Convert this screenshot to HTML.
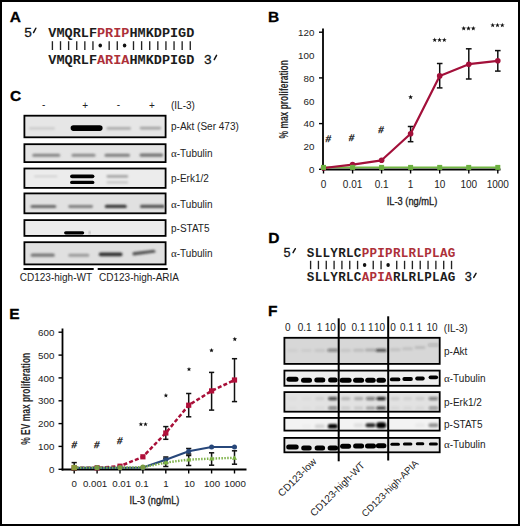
<!DOCTYPE html>
<html><head><meta charset="utf-8"><style>
html,body{margin:0;padding:0;background:#fff;}
svg{display:block;}
</style></head><body>
<svg width="520" height="526" viewBox="0 0 520 526">
<defs><filter id="bl" x="-20%" y="-80%" width="140%" height="260%"><feGaussianBlur stdDeviation="0.85"/></filter><filter id="bl2" x="-20%" y="-80%" width="140%" height="260%"><feGaussianBlur stdDeviation="0.45"/></filter></defs>
<rect x="1" y="1" width="518" height="524" fill="#fff" stroke="#000" stroke-width="2"/>
<text x="9.8" y="22.4" font-family='"Liberation Sans", sans-serif' font-size="15.5" font-weight="bold" fill="#000" stroke="#000" stroke-width="0.3">A</text>
<text x="9.9" y="100.9" font-family='"Liberation Sans", sans-serif' font-size="15.5" font-weight="bold" fill="#000" stroke="#000" stroke-width="0.3">C</text>
<text x="268.3" y="242.7" font-family='"Liberation Sans", sans-serif' font-size="15.5" font-weight="bold" fill="#000" stroke="#000" stroke-width="0.3">D</text>
<text x="9.2" y="318.6" font-family='"Liberation Sans", sans-serif' font-size="15.5" font-weight="bold" fill="#000" stroke="#000" stroke-width="0.3">E</text>
<text x="268.1" y="316.1" font-family='"Liberation Sans", sans-serif' font-size="15.5" font-weight="bold" fill="#000" stroke="#000" stroke-width="0.3">F</text>
<text x="267.9" y="22.4" font-family='"Liberation Sans", sans-serif' font-size="15.5" font-weight="bold" fill="#000" stroke="#000" stroke-width="0.3">B</text>
<g font-family='"Liberation Mono", monospace' font-size="13.5" font-weight="bold"><text x="52.40" y="36.6" fill="#1c1c1c" text-anchor="middle">V</text><text x="60.51" y="36.6" fill="#1c1c1c" text-anchor="middle">M</text><text x="68.62" y="36.6" fill="#1c1c1c" text-anchor="middle">Q</text><text x="76.73" y="36.6" fill="#1c1c1c" text-anchor="middle">R</text><text x="84.84" y="36.6" fill="#1c1c1c" text-anchor="middle">L</text><text x="92.95" y="36.6" fill="#1c1c1c" text-anchor="middle">F</text><text x="101.06" y="36.6" fill="#ad3039" text-anchor="middle">P</text><text x="109.17" y="36.6" fill="#ad3039" text-anchor="middle">R</text><text x="117.28" y="36.6" fill="#ad3039" text-anchor="middle">I</text><text x="125.39" y="36.6" fill="#ad3039" text-anchor="middle">P</text><text x="133.50" y="36.6" fill="#1c1c1c" text-anchor="middle">H</text><text x="141.61" y="36.6" fill="#1c1c1c" text-anchor="middle">M</text><text x="149.72" y="36.6" fill="#1c1c1c" text-anchor="middle">K</text><text x="157.83" y="36.6" fill="#1c1c1c" text-anchor="middle">D</text><text x="165.94" y="36.6" fill="#1c1c1c" text-anchor="middle">P</text><text x="174.05" y="36.6" fill="#1c1c1c" text-anchor="middle">I</text><text x="182.16" y="36.6" fill="#1c1c1c" text-anchor="middle">G</text><text x="190.27" y="36.6" fill="#1c1c1c" text-anchor="middle">D</text></g>
<g font-family='"Liberation Mono", monospace' font-size="13.5" font-weight="bold"><text x="52.40" y="63.7" fill="#1c1c1c" text-anchor="middle">V</text><text x="60.51" y="63.7" fill="#1c1c1c" text-anchor="middle">M</text><text x="68.62" y="63.7" fill="#1c1c1c" text-anchor="middle">Q</text><text x="76.73" y="63.7" fill="#1c1c1c" text-anchor="middle">R</text><text x="84.84" y="63.7" fill="#1c1c1c" text-anchor="middle">L</text><text x="92.95" y="63.7" fill="#1c1c1c" text-anchor="middle">F</text><text x="101.06" y="63.7" fill="#ad3039" text-anchor="middle">A</text><text x="109.17" y="63.7" fill="#ad3039" text-anchor="middle">R</text><text x="117.28" y="63.7" fill="#ad3039" text-anchor="middle">I</text><text x="125.39" y="63.7" fill="#ad3039" text-anchor="middle">A</text><text x="133.50" y="63.7" fill="#1c1c1c" text-anchor="middle">H</text><text x="141.61" y="63.7" fill="#1c1c1c" text-anchor="middle">M</text><text x="149.72" y="63.7" fill="#1c1c1c" text-anchor="middle">K</text><text x="157.83" y="63.7" fill="#1c1c1c" text-anchor="middle">D</text><text x="165.94" y="63.7" fill="#1c1c1c" text-anchor="middle">P</text><text x="174.05" y="63.7" fill="#1c1c1c" text-anchor="middle">I</text><text x="182.16" y="63.7" fill="#1c1c1c" text-anchor="middle">G</text><text x="190.27" y="63.7" fill="#1c1c1c" text-anchor="middle">D</text></g>
<g stroke="#222" stroke-width="1.35"><line x1="52.40" y1="41.2" x2="52.40" y2="50.0"/><line x1="60.51" y1="41.2" x2="60.51" y2="50.0"/><line x1="68.62" y1="41.2" x2="68.62" y2="50.0"/><line x1="76.73" y1="41.2" x2="76.73" y2="50.0"/><line x1="84.84" y1="41.2" x2="84.84" y2="50.0"/><line x1="92.95" y1="41.2" x2="92.95" y2="50.0"/><ellipse cx="100.26" cy="45.60" rx="1.75" ry="2.0" fill="#111" stroke="none"/><line x1="109.17" y1="41.2" x2="109.17" y2="50.0"/><line x1="117.28" y1="41.2" x2="117.28" y2="50.0"/><ellipse cx="124.59" cy="45.60" rx="1.75" ry="2.0" fill="#111" stroke="none"/><line x1="133.50" y1="41.2" x2="133.50" y2="50.0"/><line x1="141.61" y1="41.2" x2="141.61" y2="50.0"/><line x1="149.72" y1="41.2" x2="149.72" y2="50.0"/><line x1="157.83" y1="41.2" x2="157.83" y2="50.0"/><line x1="165.94" y1="41.2" x2="165.94" y2="50.0"/><line x1="174.05" y1="41.2" x2="174.05" y2="50.0"/><line x1="182.16" y1="41.2" x2="182.16" y2="50.0"/><line x1="190.27" y1="41.2" x2="190.27" y2="50.0"/></g>
<text x="28.00" y="36.6" text-anchor="middle" font-family='"Liberation Mono", monospace' font-size="13.5" font-weight="normal" stroke="#151515" stroke-width="0.3" fill="#151515">5</text>
<path d="M35.85,28.23 L33.55,32.55" stroke="#151515" stroke-width="1.5" stroke-linecap="round"/>
<text x="207.90" y="63.7" text-anchor="middle" font-family='"Liberation Mono", monospace' font-size="13.5" font-weight="normal" stroke="#151515" stroke-width="0.3" fill="#151515">3</text>
<path d="M216.55,55.33 L214.25,59.65" stroke="#151515" stroke-width="1.5" stroke-linecap="round"/>
<g font-family='"Liberation Mono", monospace' font-size="12.6" font-weight="bold"><text x="310.60" y="256.5" fill="#1c1c1c" text-anchor="middle">S</text><text x="318.43" y="256.5" fill="#1c1c1c" text-anchor="middle">L</text><text x="326.26" y="256.5" fill="#1c1c1c" text-anchor="middle">L</text><text x="334.09" y="256.5" fill="#1c1c1c" text-anchor="middle">Y</text><text x="341.92" y="256.5" fill="#1c1c1c" text-anchor="middle">R</text><text x="349.75" y="256.5" fill="#1c1c1c" text-anchor="middle">L</text><text x="357.58" y="256.5" fill="#1c1c1c" text-anchor="middle">C</text><text x="365.41" y="256.5" fill="#ad3039" text-anchor="middle">P</text><text x="373.24" y="256.5" fill="#ad3039" text-anchor="middle">P</text><text x="381.07" y="256.5" fill="#ad3039" text-anchor="middle">I</text><text x="388.90" y="256.5" fill="#ad3039" text-anchor="middle">P</text><text x="396.73" y="256.5" fill="#ad3039" text-anchor="middle">R</text><text x="404.56" y="256.5" fill="#ad3039" text-anchor="middle">L</text><text x="412.39" y="256.5" fill="#ad3039" text-anchor="middle">R</text><text x="420.22" y="256.5" fill="#ad3039" text-anchor="middle">L</text><text x="428.05" y="256.5" fill="#ad3039" text-anchor="middle">P</text><text x="435.88" y="256.5" fill="#ad3039" text-anchor="middle">L</text><text x="443.71" y="256.5" fill="#ad3039" text-anchor="middle">A</text><text x="451.54" y="256.5" fill="#ad3039" text-anchor="middle">G</text></g>
<g font-family='"Liberation Mono", monospace' font-size="12.6" font-weight="bold"><text x="310.60" y="281.2" fill="#1c1c1c" text-anchor="middle">S</text><text x="318.43" y="281.2" fill="#1c1c1c" text-anchor="middle">L</text><text x="326.26" y="281.2" fill="#1c1c1c" text-anchor="middle">L</text><text x="334.09" y="281.2" fill="#1c1c1c" text-anchor="middle">Y</text><text x="341.92" y="281.2" fill="#1c1c1c" text-anchor="middle">R</text><text x="349.75" y="281.2" fill="#1c1c1c" text-anchor="middle">L</text><text x="357.58" y="281.2" fill="#1c1c1c" text-anchor="middle">C</text><text x="365.41" y="281.2" fill="#ad3039" text-anchor="middle">A</text><text x="373.24" y="281.2" fill="#ad3039" text-anchor="middle">P</text><text x="381.07" y="281.2" fill="#ad3039" text-anchor="middle">I</text><text x="388.90" y="281.2" fill="#ad3039" text-anchor="middle">A</text><text x="396.73" y="281.2" fill="#1c1c1c" text-anchor="middle">R</text><text x="404.56" y="281.2" fill="#1c1c1c" text-anchor="middle">L</text><text x="412.39" y="281.2" fill="#1c1c1c" text-anchor="middle">R</text><text x="420.22" y="281.2" fill="#1c1c1c" text-anchor="middle">L</text><text x="428.05" y="281.2" fill="#1c1c1c" text-anchor="middle">P</text><text x="435.88" y="281.2" fill="#1c1c1c" text-anchor="middle">L</text><text x="443.71" y="281.2" fill="#1c1c1c" text-anchor="middle">A</text><text x="451.54" y="281.2" fill="#1c1c1c" text-anchor="middle">G</text></g>
<g stroke="#222" stroke-width="1.35"><line x1="310.60" y1="260.8" x2="310.60" y2="269.2"/><line x1="318.43" y1="260.8" x2="318.43" y2="269.2"/><line x1="326.26" y1="260.8" x2="326.26" y2="269.2"/><line x1="334.09" y1="260.8" x2="334.09" y2="269.2"/><line x1="341.92" y1="260.8" x2="341.92" y2="269.2"/><line x1="349.75" y1="260.8" x2="349.75" y2="269.2"/><line x1="357.58" y1="260.8" x2="357.58" y2="269.2"/><ellipse cx="364.61" cy="265.00" rx="1.75" ry="2.0" fill="#111" stroke="none"/><line x1="373.24" y1="260.8" x2="373.24" y2="269.2"/><line x1="381.07" y1="260.8" x2="381.07" y2="269.2"/><ellipse cx="388.10" cy="265.00" rx="1.75" ry="2.0" fill="#111" stroke="none"/><line x1="396.73" y1="260.8" x2="396.73" y2="269.2"/><line x1="404.56" y1="260.8" x2="404.56" y2="269.2"/><line x1="412.39" y1="260.8" x2="412.39" y2="269.2"/><line x1="420.22" y1="260.8" x2="420.22" y2="269.2"/><line x1="428.05" y1="260.8" x2="428.05" y2="269.2"/><line x1="435.88" y1="260.8" x2="435.88" y2="269.2"/><line x1="443.71" y1="260.8" x2="443.71" y2="269.2"/><line x1="451.54" y1="260.8" x2="451.54" y2="269.2"/></g>
<text x="287.00" y="256.5" text-anchor="middle" font-family='"Liberation Mono", monospace' font-size="12.6" font-weight="normal" stroke="#151515" stroke-width="0.3" fill="#151515">5</text>
<path d="M295.35,248.69 L293.05,252.72" stroke="#151515" stroke-width="1.5" stroke-linecap="round"/>
<text x="468.20" y="281.2" text-anchor="middle" font-family='"Liberation Mono", monospace' font-size="12.6" font-weight="normal" stroke="#151515" stroke-width="0.3" fill="#151515">3</text>
<path d="M476.05,273.39 L473.75,277.42" stroke="#151515" stroke-width="1.5" stroke-linecap="round"/>
<g font-family='"Liberation Sans", sans-serif' font-size="10" fill="#222"><line x1="319" y1="169.3" x2="323.0" y2="169.3" stroke="#000" stroke-width="1.4"/><text x="314.4" y="173.0" text-anchor="end" font-size="9.8">0</text><text x="314.4" y="150.2" text-anchor="end" font-size="9.8">20</text><line x1="319" y1="123.6" x2="323.0" y2="123.6" stroke="#000" stroke-width="1.4"/><text x="314.4" y="127.3" text-anchor="end" font-size="9.8">40</text><text x="314.4" y="104.5" text-anchor="end" font-size="9.8">60</text><line x1="319" y1="77.9" x2="323.0" y2="77.9" stroke="#000" stroke-width="1.4"/><text x="314.4" y="81.6" text-anchor="end" font-size="9.8">80</text><text x="314.4" y="58.8" text-anchor="end" font-size="9.8">100</text><line x1="319" y1="32.2" x2="323.0" y2="32.2" stroke="#000" stroke-width="1.4"/><text x="314.4" y="35.9" text-anchor="end" font-size="9.8">120</text><line x1="323.0" y1="28.5" x2="323.0" y2="170.3" stroke="#000" stroke-width="1.8"/><line x1="322.1" y1="169.4" x2="500.5" y2="169.4" stroke="#000" stroke-width="2"/><line x1="323.5" y1="169.5" x2="323.5" y2="173.5" stroke="#000" stroke-width="1.4"/><text x="323.5" y="187.5" text-anchor="middle">0</text><line x1="352.6" y1="169.5" x2="352.6" y2="173.5" stroke="#000" stroke-width="1.4"/><text x="352.6" y="187.5" text-anchor="middle">0.01</text><line x1="381.6" y1="169.5" x2="381.6" y2="173.5" stroke="#000" stroke-width="1.4"/><text x="381.6" y="187.5" text-anchor="middle">0.1</text><line x1="410.6" y1="169.5" x2="410.6" y2="173.5" stroke="#000" stroke-width="1.4"/><text x="410.6" y="187.5" text-anchor="middle">1</text><line x1="439.7" y1="169.5" x2="439.7" y2="173.5" stroke="#000" stroke-width="1.4"/><text x="439.7" y="187.5" text-anchor="middle">10</text><line x1="468.8" y1="169.5" x2="468.8" y2="173.5" stroke="#000" stroke-width="1.4"/><text x="468.8" y="187.5" text-anchor="middle">100</text><line x1="497.8" y1="169.5" x2="497.8" y2="173.5" stroke="#000" stroke-width="1.4"/><text x="497.8" y="187.5" text-anchor="middle">1000</text></g>
<text transform="translate(288.4,99.3) rotate(-90)" text-anchor="middle" font-family='"Liberation Sans", sans-serif' font-size="12.3" font-weight="bold" fill="#2a2a2a" textLength="78.3" lengthAdjust="spacingAndGlyphs">% max proliferation</text>
<text x="412.0" y="205.0" text-anchor="middle" font-family='"Liberation Sans", sans-serif' font-size="11.2" fill="#222" stroke="#222" stroke-width="0.35" textLength="50.5" lengthAdjust="spacingAndGlyphs">IL-3 (ng/mL)</text>
<line x1="323.5" y1="167.4" x2="497.8" y2="167.4" stroke="#72b843" stroke-width="1.9"/>
<g stroke="#111" stroke-width="1.5"><line x1="410.6" y1="126.5" x2="410.6" y2="141.7"/><line x1="407.8" y1="126.5" x2="413.4" y2="126.5"/><line x1="407.8" y1="141.7" x2="413.4" y2="141.7"/></g>
<g stroke="#111" stroke-width="1.5"><line x1="439.7" y1="63.5" x2="439.7" y2="87.9"/><line x1="436.9" y1="63.5" x2="442.5" y2="63.5"/><line x1="436.9" y1="87.9" x2="442.5" y2="87.9"/></g>
<g stroke="#111" stroke-width="1.5"><line x1="468.8" y1="48.8" x2="468.8" y2="79.0"/><line x1="465.9" y1="48.8" x2="471.6" y2="48.8"/><line x1="465.9" y1="79.0" x2="471.6" y2="79.0"/></g>
<g stroke="#111" stroke-width="1.5"><line x1="497.8" y1="50.6" x2="497.8" y2="71.1"/><line x1="495.0" y1="50.6" x2="500.6" y2="50.6"/><line x1="495.0" y1="71.1" x2="500.6" y2="71.1"/></g>
<polyline points="323.5,168.0 352.6,164.6 381.6,160.3 410.6,133.7 439.7,75.9 468.8,64.2 497.8,60.8" fill="none" stroke="#a3103a" stroke-width="2.2" stroke-linejoin="round"/>
<circle cx="323.5" cy="168.0" r="2.8" fill="#a3103a"/>
<circle cx="352.6" cy="164.6" r="2.8" fill="#a3103a"/>
<circle cx="381.6" cy="160.3" r="2.8" fill="#a3103a"/>
<circle cx="410.6" cy="133.7" r="2.8" fill="#a3103a"/>
<circle cx="439.7" cy="75.9" r="2.8" fill="#a3103a"/>
<circle cx="468.8" cy="64.2" r="2.8" fill="#a3103a"/>
<circle cx="497.8" cy="60.8" r="2.8" fill="#a3103a"/>
<rect x="321.0" y="164.9" width="5" height="5" fill="#6cb040"/>
<rect x="350.1" y="164.9" width="5" height="5" fill="#6cb040"/>
<rect x="379.1" y="164.9" width="5" height="5" fill="#6cb040"/>
<rect x="408.1" y="164.9" width="5" height="5" fill="#6cb040"/>
<rect x="437.2" y="164.9" width="5" height="5" fill="#6cb040"/>
<rect x="466.2" y="164.9" width="5" height="5" fill="#6cb040"/>
<rect x="495.3" y="164.9" width="5" height="5" fill="#6cb040"/>
<polygon points="410.60,94.70 411.22,96.35 412.98,96.43 411.60,97.52 412.07,99.22 410.60,98.25 409.13,99.22 409.60,97.52 408.22,96.43 409.98,96.35" fill="#111"/>
<polygon points="434.70,37.50 435.32,39.15 437.08,39.23 435.70,40.32 436.17,42.02 434.70,41.05 433.23,42.02 433.70,40.32 432.32,39.23 434.08,39.15" fill="#111"/><polygon points="439.50,37.50 440.12,39.15 441.88,39.23 440.50,40.32 440.97,42.02 439.50,41.05 438.03,42.02 438.50,40.32 437.12,39.23 438.88,39.15" fill="#111"/><polygon points="444.30,37.50 444.92,39.15 446.68,39.23 445.30,40.32 445.77,42.02 444.30,41.05 442.83,42.02 443.30,40.32 441.92,39.23 443.68,39.15" fill="#111"/>
<polygon points="463.70,25.90 464.32,27.55 466.08,27.63 464.70,28.72 465.17,30.42 463.70,29.45 462.23,30.42 462.70,28.72 461.32,27.63 463.08,27.55" fill="#111"/><polygon points="468.50,25.90 469.12,27.55 470.88,27.63 469.50,28.72 469.97,30.42 468.50,29.45 467.03,30.42 467.50,28.72 466.12,27.63 467.88,27.55" fill="#111"/><polygon points="473.30,25.90 473.92,27.55 475.68,27.63 474.30,28.72 474.77,30.42 473.30,29.45 471.83,30.42 472.30,28.72 470.92,27.63 472.68,27.55" fill="#111"/>
<polygon points="492.70,22.80 493.32,24.45 495.08,24.53 493.70,25.62 494.17,27.32 492.70,26.35 491.23,27.32 491.70,25.62 490.32,24.53 492.08,24.45" fill="#111"/><polygon points="497.50,22.80 498.12,24.45 499.88,24.53 498.50,25.62 498.97,27.32 497.50,26.35 496.03,27.32 496.50,25.62 495.12,24.53 496.88,24.45" fill="#111"/><polygon points="502.30,22.80 502.92,24.45 504.68,24.53 503.30,25.62 503.77,27.32 502.30,26.35 500.83,27.32 501.30,25.62 499.92,24.53 501.68,24.45" fill="#111"/>
<text x="328.4" y="141.8" text-anchor="middle" font-family='"Liberation Sans", sans-serif' font-size="9.5" fill="#222" stroke="#222" stroke-width="0.35" transform="skewX(-8) translate(19.45,0)">#</text>
<text x="351.6" y="140.70000000000002" text-anchor="middle" font-family='"Liberation Sans", sans-serif' font-size="9.5" fill="#222" stroke="#222" stroke-width="0.35" transform="skewX(-8) translate(19.29,0)">#</text>
<text x="381.2" y="133.4" text-anchor="middle" font-family='"Liberation Sans", sans-serif' font-size="9.5" fill="#222" stroke="#222" stroke-width="0.35" transform="skewX(-8) translate(18.27,0)">#</text>
<g font-family='"Liberation Sans", sans-serif' font-size="10" fill="#222"><line x1="58.5" y1="469.3" x2="62.5" y2="469.3" stroke="#000" stroke-width="1.4"/><text x="54.4" y="473.0" text-anchor="end" font-size="9.8">0</text><line x1="58.5" y1="446.4" x2="62.5" y2="446.4" stroke="#000" stroke-width="1.4"/><text x="54.4" y="450.1" text-anchor="end" font-size="9.8">100</text><line x1="58.5" y1="423.6" x2="62.5" y2="423.6" stroke="#000" stroke-width="1.4"/><text x="54.4" y="427.3" text-anchor="end" font-size="9.8">200</text><line x1="58.5" y1="400.8" x2="62.5" y2="400.8" stroke="#000" stroke-width="1.4"/><text x="54.4" y="404.4" text-anchor="end" font-size="9.8">300</text><line x1="58.5" y1="377.9" x2="62.5" y2="377.9" stroke="#000" stroke-width="1.4"/><text x="54.4" y="381.6" text-anchor="end" font-size="9.8">400</text><line x1="58.5" y1="355.1" x2="62.5" y2="355.1" stroke="#000" stroke-width="1.4"/><text x="54.4" y="358.8" text-anchor="end" font-size="9.8">500</text><line x1="58.5" y1="332.2" x2="62.5" y2="332.2" stroke="#000" stroke-width="1.4"/><text x="54.4" y="335.9" text-anchor="end" font-size="9.8">600</text><line x1="62.5" y1="328.5" x2="62.5" y2="470.5" stroke="#000" stroke-width="1.8"/><line x1="61.6" y1="469.5" x2="246.5" y2="469.5" stroke="#000" stroke-width="2"/><line x1="74.2" y1="469.7" x2="74.2" y2="473.5" stroke="#000" stroke-width="1.4"/><text x="74.3" y="487.4" text-anchor="middle" font-size="9.7">0</text><line x1="97.1" y1="469.7" x2="97.1" y2="473.5" stroke="#000" stroke-width="1.4"/><text x="95.1" y="487.4" text-anchor="middle" font-size="9.7">0.001</text><line x1="120.0" y1="469.7" x2="120.0" y2="473.5" stroke="#000" stroke-width="1.4"/><text x="121.7" y="487.4" text-anchor="middle" font-size="9.7">0.01</text><line x1="142.9" y1="469.7" x2="142.9" y2="473.5" stroke="#000" stroke-width="1.4"/><text x="141.9" y="487.4" text-anchor="middle" font-size="9.7">0.1</text><line x1="165.8" y1="469.7" x2="165.8" y2="473.5" stroke="#000" stroke-width="1.4"/><text x="166.0" y="487.4" text-anchor="middle" font-size="9.7">1</text><line x1="188.7" y1="469.7" x2="188.7" y2="473.5" stroke="#000" stroke-width="1.4"/><text x="189.6" y="487.4" text-anchor="middle" font-size="9.7">10</text><line x1="211.6" y1="469.7" x2="211.6" y2="473.5" stroke="#000" stroke-width="1.4"/><text x="212.0" y="487.4" text-anchor="middle" font-size="9.7">100</text><line x1="234.5" y1="469.7" x2="234.5" y2="473.5" stroke="#000" stroke-width="1.4"/><text x="235.1" y="487.4" text-anchor="middle" font-size="9.7">1000</text></g>
<text transform="translate(30.0,398.8) rotate(-90)" text-anchor="middle" font-family='"Liberation Sans", sans-serif' font-size="12" font-weight="bold" fill="#2a2a2a" textLength="92" lengthAdjust="spacingAndGlyphs">% EV max proliferation</text>
<text x="154.4" y="504.0" text-anchor="middle" font-family='"Liberation Sans", sans-serif' font-size="11.2" fill="#222" stroke="#222" stroke-width="0.35" textLength="50.0" lengthAdjust="spacingAndGlyphs">IL-3 (ng/mL)</text>
<g stroke="#111" stroke-width="1.5"><line x1="74.2" y1="462.6" x2="74.2" y2="470"/><line x1="71.6" y1="462.6" x2="76.8" y2="462.6"/><line x1="71.6" y1="470" x2="76.8" y2="470"/></g>
<g stroke="#111" stroke-width="1.5"><line x1="165.8" y1="426.6" x2="165.8" y2="439.3"/><line x1="163.2" y1="426.6" x2="168.4" y2="426.6"/><line x1="163.2" y1="439.3" x2="168.4" y2="439.3"/></g>
<g stroke="#111" stroke-width="1.5"><line x1="188.7" y1="393.5" x2="188.7" y2="416.8"/><line x1="186.1" y1="393.5" x2="191.3" y2="393.5"/><line x1="186.1" y1="416.8" x2="191.3" y2="416.8"/></g>
<g stroke="#111" stroke-width="1.5"><line x1="211.6" y1="372.4" x2="211.6" y2="410.1"/><line x1="209.0" y1="372.4" x2="214.2" y2="372.4"/><line x1="209.0" y1="410.1" x2="214.2" y2="410.1"/></g>
<g stroke="#111" stroke-width="1.5"><line x1="234.5" y1="358.7" x2="234.5" y2="401.6"/><line x1="231.9" y1="358.7" x2="237.1" y2="358.7"/><line x1="231.9" y1="401.6" x2="237.1" y2="401.6"/></g>
<g stroke="#111" stroke-width="1.5"><line x1="165.8" y1="457" x2="165.8" y2="463"/><line x1="163.2" y1="457" x2="168.4" y2="457"/><line x1="163.2" y1="463" x2="168.4" y2="463"/></g>
<g stroke="#111" stroke-width="1.5"><line x1="188.7" y1="448.5" x2="188.7" y2="454"/><line x1="186.1" y1="448.5" x2="191.3" y2="448.5"/><line x1="186.1" y1="454" x2="191.3" y2="454"/></g>
<g stroke="#111" stroke-width="1.5"><line x1="211.6" y1="452.8" x2="211.6" y2="465.2"/><line x1="209.0" y1="452.8" x2="214.2" y2="452.8"/><line x1="209.0" y1="465.2" x2="214.2" y2="465.2"/></g>
<g stroke="#111" stroke-width="1.5"><line x1="234.5" y1="450.8" x2="234.5" y2="464.2"/><line x1="231.9" y1="450.8" x2="237.1" y2="450.8"/><line x1="231.9" y1="464.2" x2="237.1" y2="464.2"/></g>
<g stroke="#111" stroke-width="1.5"><line x1="188.7" y1="455.5" x2="188.7" y2="465.5"/><line x1="186.1" y1="455.5" x2="191.3" y2="455.5"/><line x1="186.1" y1="465.5" x2="191.3" y2="465.5"/></g>
<g stroke="#111" stroke-width="1.5"><line x1="165.8" y1="458.5" x2="165.8" y2="466.5"/><line x1="163.2" y1="458.5" x2="168.4" y2="458.5"/><line x1="163.2" y1="466.5" x2="168.4" y2="466.5"/></g>
<polyline points="74.2,467.8 97.1,467.8 120.0,466.2 142.9,456.8 165.8,433.0 188.7,405.2 211.6,390.9 234.5,380.0" fill="none" stroke="#a80f38" stroke-width="2.5" stroke-dasharray="4,2.2"/>
<rect x="71.6" y="465.2" width="5.2" height="5.2" fill="#b0103a"/>
<rect x="94.5" y="465.2" width="5.2" height="5.2" fill="#b0103a"/>
<rect x="117.4" y="463.6" width="5.2" height="5.2" fill="#b0103a"/>
<rect x="140.3" y="454.2" width="5.2" height="5.2" fill="#b0103a"/>
<rect x="163.2" y="430.4" width="5.2" height="5.2" fill="#b0103a"/>
<rect x="186.1" y="402.6" width="5.2" height="5.2" fill="#b0103a"/>
<rect x="209.0" y="388.3" width="5.2" height="5.2" fill="#b0103a"/>
<rect x="231.9" y="377.4" width="5.2" height="5.2" fill="#b0103a"/>
<polyline points="74.2,467.8 97.1,467.8 120.0,467.8 142.9,467.5 165.8,459.8 188.7,451.2 211.6,447.0 234.5,447.0" fill="none" stroke="#27477a" stroke-width="2.2"/>
<circle cx="74.2" cy="467.8" r="2.5" fill="#27477a"/>
<circle cx="97.1" cy="467.8" r="2.5" fill="#27477a"/>
<circle cx="120.0" cy="467.8" r="2.5" fill="#27477a"/>
<circle cx="142.9" cy="467.5" r="2.5" fill="#27477a"/>
<circle cx="165.8" cy="459.8" r="2.5" fill="#27477a"/>
<circle cx="188.7" cy="451.2" r="2.5" fill="#27477a"/>
<circle cx="211.6" cy="447.0" r="2.5" fill="#27477a"/>
<circle cx="234.5" cy="447.0" r="2.5" fill="#27477a"/>
<polyline points="74.2,467.6 97.1,467.6 120.0,467.6 142.9,467.2 165.8,462.6 188.7,459.6 211.6,458.6 234.5,457.8" fill="none" stroke="#7fb24a" stroke-width="2.4" stroke-dasharray="1.5,1.4"/>
<path d="M163.2,464.6 L168.4,464.6 L165.8,460.2Z" fill="#7cb342"/>
<path d="M186.1,461.6 L191.3,461.6 L188.7,457.2Z" fill="#7cb342"/>
<path d="M209.0,460.6 L214.2,460.6 L211.6,456.2Z" fill="#7cb342"/>
<path d="M231.9,459.8 L237.1,459.8 L234.5,455.4Z" fill="#7cb342"/>
<rect x="71.5" y="464.9" width="5.4" height="5.4" fill="#8a9a3a"/>
<circle cx="97.1" cy="467.6" r="2.6" fill="#7a9a40"/>
<circle cx="120.0" cy="467.6" r="2.6" fill="#7a9a40"/>
<circle cx="142.9" cy="467.2" r="2.6" fill="#7a9a40"/>
<polygon points="140.90,421.90 141.52,423.45 143.18,423.56 141.90,424.62 142.31,426.24 140.90,425.35 139.49,426.24 139.90,424.62 138.62,423.56 140.28,423.45" fill="#111"/><polygon points="145.50,421.90 146.12,423.45 147.78,423.56 146.50,424.62 146.91,426.24 145.50,425.35 144.09,426.24 144.50,424.62 143.22,423.56 144.88,423.45" fill="#111"/>
<polygon points="165.90,393.10 166.52,394.65 168.18,394.76 166.90,395.82 167.31,397.44 165.90,396.55 164.49,397.44 164.90,395.82 163.62,394.76 165.28,394.65" fill="#111"/>
<polygon points="189.00,366.90 189.62,368.45 191.28,368.56 190.00,369.62 190.41,371.24 189.00,370.35 187.59,371.24 188.00,369.62 186.72,368.56 188.38,368.45" fill="#111"/>
<polygon points="211.50,348.00 212.12,349.55 213.78,349.66 212.50,350.72 212.91,352.34 211.50,351.45 210.09,352.34 210.50,350.72 209.22,349.66 210.88,349.55" fill="#111"/>
<polygon points="234.80,336.80 235.42,338.35 237.08,338.46 235.80,339.52 236.21,341.14 234.80,340.25 233.39,341.14 233.80,339.52 232.52,338.46 234.18,338.35" fill="#111"/>
<text x="74.3" y="447.7" text-anchor="middle" font-family='"Liberation Sans", sans-serif' font-size="9.5" fill="#222" stroke="#222" stroke-width="0.35" transform="skewX(-8) translate(62.42,0)">#</text>
<text x="97" y="448.4" text-anchor="middle" font-family='"Liberation Sans", sans-serif' font-size="9.5" fill="#222" stroke="#222" stroke-width="0.35" transform="skewX(-8) translate(62.52,0)">#</text>
<text x="120" y="443.79999999999995" text-anchor="middle" font-family='"Liberation Sans", sans-serif' font-size="9.5" fill="#222" stroke="#222" stroke-width="0.35" transform="skewX(-8) translate(61.88,0)">#</text>
<rect x="24.4" y="115.7" width="141.2" height="21.6" fill="#e6e6e6" stroke="#000" stroke-width="1.8"/>
<rect x="24.4" y="144.20000000000002" width="141.2" height="17.9" fill="#e4e4e4" stroke="#000" stroke-width="1.8"/>
<rect x="24.4" y="168.5" width="141.2" height="19.4" fill="#ececec" stroke="#000" stroke-width="1.8"/>
<rect x="24.4" y="193.4" width="141.2" height="19.9" fill="#e1e1e1" stroke="#000" stroke-width="1.8"/>
<rect x="24.4" y="220.1" width="141.2" height="15.8" fill="#ececec" stroke="#000" stroke-width="1.8"/>
<rect x="24.4" y="242.20000000000002" width="141.2" height="22.2" fill="#e0e0e0" stroke="#000" stroke-width="1.8"/>
<rect x="70.6" y="125.3" width="32.0" height="5.6" rx="2.8" fill="#000" fill-opacity="1" filter="url(#bl2)"/><rect x="29.0" y="127.3" width="26.0" height="2.2" rx="1.1" fill="#c9c9c9" fill-opacity="1.0" filter="url(#bl)"/><rect x="106.5" y="127.1" width="24.5" height="2.6" rx="1.3" fill="#acacac" fill-opacity="1.0" filter="url(#bl)"/><rect x="139.7" y="126.7" width="21.6" height="2.8" rx="1.4" fill="#a3a3a3" fill-opacity="1.0" filter="url(#bl)"/><rect x="32.3" y="153.7" width="27.9" height="3.0" rx="1.5" fill="#858585" fill-opacity="1.0" filter="url(#bl)"/><rect x="71.5" y="153.8" width="24.0" height="3.0" rx="1.5" fill="#8a8a8a" fill-opacity="1.0" filter="url(#bl)"/><rect x="104.5" y="153.8" width="25.5" height="3.0" rx="1.5" fill="#7e7e7e" fill-opacity="1.0" filter="url(#bl)"/><rect x="139.5" y="153.5" width="23.7" height="3.2" rx="1.6" fill="#727272" fill-opacity="1.0" filter="url(#bl)"/><rect x="70.1" y="174.4" width="24.3" height="3.8" rx="1.9" fill="#000" fill-opacity="1" filter="url(#bl2)"/><rect x="70.1" y="180.7" width="24.3" height="3.3" rx="1.6" fill="#000" fill-opacity="1" filter="url(#bl2)"/><rect x="106.5" y="175.1" width="21.7" height="2.6" rx="1.3" fill="#a6a6a6" fill-opacity="1.0" filter="url(#bl)"/><rect x="106.5" y="181.2" width="21.7" height="2.3" rx="1.1" fill="#c4c4c4" fill-opacity="1.0" filter="url(#bl)"/><rect x="34.0" y="175.5" width="23.5" height="1.8" rx="0.9" fill="#d0d0d0" fill-opacity="1.0" filter="url(#bl)"/><rect x="30.5" y="204.9" width="25.8" height="3.0" rx="1.5" fill="#6a6a6a" fill-opacity="1.0" filter="url(#bl)"/><rect x="68.3" y="205.0" width="24.7" height="2.9" rx="1.4" fill="#808080" fill-opacity="1.0" filter="url(#bl)"/><rect x="104.8" y="204.7" width="22.0" height="3.4" rx="1.7" fill="#383838" fill-opacity="1.0" filter="url(#bl)"/><rect x="140.0" y="204.8" width="24.6" height="3.2" rx="1.6" fill="#555555" fill-opacity="1.0" filter="url(#bl)"/><rect x="64.1" y="231.2" width="20.1" height="3.2" rx="1.6" fill="#050505" fill-opacity="1" filter="url(#bl2)"/><rect x="88.9" y="231.8" width="1.7" height="1.7" rx="0.8" fill="#555" fill-opacity="1.0" filter="url(#bl)"/><rect x="30.7" y="253.6" width="24.1" height="3.2" rx="1.6" fill="#777777" fill-opacity="1.0" filter="url(#bl)"/><rect x="68.3" y="253.7" width="21.0" height="3.0" rx="1.5" fill="#9a9a9a" fill-opacity="1.0" filter="url(#bl)"/><rect x="98.8" y="252.6" width="23.7" height="3.6" rx="1.8" fill="#333333" fill-opacity="1.0" filter="url(#bl)"/><path d="M132.5,253.9 Q132,252.2 134,252.0 L154,249.8 Q156,250.4 155.5,252.4 L134,255.6 Q132.6,255.6 132.5,253.9Z" fill="#555" filter="url(#bl)"/>
<rect x="23.5" y="268" width="70.2" height="2" fill="#000"/><rect x="97.7" y="268" width="70" height="2" fill="#000"/>
<g font-family='"Liberation Sans", sans-serif' font-size="10" fill="#222"><text x="43.6" y="108.0" text-anchor="middle">-</text><text x="85.2" y="108.9" text-anchor="middle">+</text><text x="118.3" y="108.0" text-anchor="middle">-</text><text x="151.9" y="108.9" text-anchor="middle">+</text><text x="171" y="108.5">(IL-3)</text><text x="171" y="130.2">p-Akt (Ser 473)</text><text x="171" y="156.9"><tspan font-family="Liberation Serif" font-size="11">α</tspan>-Tubulin</text><text x="171" y="181.9">p-Erk1/2</text><text x="171" y="207.5"><tspan font-family="Liberation Serif" font-size="11">α</tspan>-Tubulin</text><text x="171" y="231.5">p-STAT5</text><text x="171" y="256.5"><tspan font-family="Liberation Serif" font-size="11">α</tspan>-Tubulin</text><text x="19.8" y="281.3">CD123-high-WT</text><text x="99" y="281.3">CD123-high-ARIA</text></g>
<rect x="284.4" y="337.79999999999995" width="155.3" height="26.1" fill="#d7d7d7" stroke="#000" stroke-width="1.8"/>
<rect x="284.4" y="370.59999999999997" width="155.3" height="15.2" fill="#eeeeee" stroke="#000" stroke-width="1.8"/>
<rect x="284.4" y="392.09999999999997" width="155.3" height="19.6" fill="#e2e2e2" stroke="#000" stroke-width="1.8"/>
<rect x="284.4" y="417.9" width="155.3" height="12.7" fill="#f3f3f3" stroke="#000" stroke-width="1.8"/>
<rect x="284.4" y="437.9" width="155.3" height="14.4" fill="#e9e9e9" stroke="#000" stroke-width="1.8"/>
<rect x="287.0" y="349.1" width="11.0" height="3.0" rx="1.5" fill="#1a1a1a" fill-opacity="0.04" filter="url(#bl)"/><rect x="301.0" y="349.1" width="11.0" height="3.0" rx="1.5" fill="#1a1a1a" fill-opacity="0.05" filter="url(#bl)"/><rect x="314.3" y="348.9" width="11.0" height="3.0" rx="1.5" fill="#1a1a1a" fill-opacity="0.08" filter="url(#bl)"/><rect x="327.3" y="348.8" width="11.0" height="3.0" rx="1.5" fill="#1a1a1a" fill-opacity="0.45" filter="url(#bl)"/><rect x="340.1" y="348.9" width="11.0" height="3.0" rx="1.5" fill="#1a1a1a" fill-opacity="0.08" filter="url(#bl)"/><rect x="353.1" y="348.7" width="11.0" height="3.0" rx="1.5" fill="#1a1a1a" fill-opacity="0.12" filter="url(#bl)"/><rect x="365.0" y="348.5" width="11.0" height="3.0" rx="1.5" fill="#1a1a1a" fill-opacity="0.2" filter="url(#bl)"/><rect x="375.7" y="348.7" width="11.0" height="3.0" rx="1.5" fill="#1a1a1a" fill-opacity="0.7" filter="url(#bl)"/><rect x="389.7" y="348.3" width="11.0" height="3.0" rx="1.5" fill="#1a1a1a" fill-opacity="0.1" filter="url(#bl)"/><rect x="402.1" y="347.3" width="11.0" height="3.0" rx="1.5" fill="#1a1a1a" fill-opacity="0.1" filter="url(#bl)"/><rect x="414.5" y="346.0" width="11.0" height="3.0" rx="1.5" fill="#1a1a1a" fill-opacity="0.12" filter="url(#bl)"/><rect x="427.9" y="343.5" width="11.0" height="3.0" rx="1.5" fill="#1a1a1a" fill-opacity="0.18" filter="url(#bl)"/><rect x="286.5" y="376.8" width="12.0" height="5.0" rx="2.5" fill="#050505" fill-opacity="1.0" filter="url(#bl2)"/><rect x="301.0" y="377.8" width="11.0" height="5.0" rx="2.5" fill="#050505" fill-opacity="1.0" filter="url(#bl2)"/><rect x="314.3" y="377.5" width="11.0" height="5.0" rx="2.5" fill="#050505" fill-opacity="1.0" filter="url(#bl2)"/><rect x="328.1" y="377.5" width="9.5" height="5.0" rx="2.5" fill="#050505" fill-opacity="1.0" filter="url(#bl2)"/><rect x="339.6" y="377.7" width="12.0" height="5.0" rx="2.5" fill="#050505" fill-opacity="1.0" filter="url(#bl2)"/><rect x="353.1" y="377.7" width="11.0" height="5.0" rx="2.5" fill="#050505" fill-opacity="1.0" filter="url(#bl2)"/><rect x="365.2" y="377.7" width="10.5" height="5.0" rx="2.5" fill="#050505" fill-opacity="1.0" filter="url(#bl2)"/><rect x="376.4" y="377.7" width="9.5" height="5.0" rx="2.5" fill="#050505" fill-opacity="1.0" filter="url(#bl2)"/><rect x="389.9" y="377.5" width="10.5" height="3.8" rx="1.9" fill="#050505" fill-opacity="1.0" filter="url(#bl2)"/><rect x="402.4" y="377.1" width="10.5" height="3.8" rx="1.9" fill="#050505" fill-opacity="1.0" filter="url(#bl2)"/><rect x="415.2" y="376.6" width="9.5" height="3.8" rx="1.9" fill="#050505" fill-opacity="1.0" filter="url(#bl2)"/><rect x="428.6" y="375.4" width="9.5" height="3.8" rx="1.9" fill="#050505" fill-opacity="1.0" filter="url(#bl2)"/><rect x="287.8" y="396.9" width="9.5" height="3.4" rx="1.7" fill="#111" fill-opacity="0.02" filter="url(#bl)"/><rect x="287.8" y="406.5" width="9.5" height="3.0" rx="1.5" fill="#111" fill-opacity="0.02" filter="url(#bl)"/><rect x="301.8" y="396.9" width="9.5" height="3.4" rx="1.7" fill="#111" fill-opacity="0.03" filter="url(#bl)"/><rect x="301.8" y="406.5" width="9.5" height="3.0" rx="1.5" fill="#111" fill-opacity="0.02" filter="url(#bl)"/><rect x="315.1" y="396.9" width="9.5" height="3.4" rx="1.7" fill="#111" fill-opacity="0.08" filter="url(#bl)"/><rect x="315.1" y="406.5" width="9.5" height="3.0" rx="1.5" fill="#111" fill-opacity="0.04" filter="url(#bl)"/><rect x="328.1" y="396.9" width="9.5" height="3.4" rx="1.7" fill="#111" fill-opacity="0.75" filter="url(#bl)"/><rect x="328.1" y="406.5" width="9.5" height="3.0" rx="1.5" fill="#111" fill-opacity="0.5" filter="url(#bl)"/><rect x="340.9" y="396.9" width="9.5" height="3.4" rx="1.7" fill="#111" fill-opacity="0.2" filter="url(#bl)"/><rect x="340.9" y="406.5" width="9.5" height="3.0" rx="1.5" fill="#111" fill-opacity="0.1" filter="url(#bl)"/><rect x="353.9" y="396.9" width="9.5" height="3.4" rx="1.7" fill="#111" fill-opacity="0.25" filter="url(#bl)"/><rect x="353.9" y="406.5" width="9.5" height="3.0" rx="1.5" fill="#111" fill-opacity="0.12" filter="url(#bl)"/><rect x="365.8" y="396.9" width="9.5" height="3.4" rx="1.7" fill="#111" fill-opacity="0.5" filter="url(#bl)"/><rect x="365.8" y="406.5" width="9.5" height="3.0" rx="1.5" fill="#111" fill-opacity="0.3" filter="url(#bl)"/><rect x="376.4" y="396.9" width="9.5" height="3.4" rx="1.7" fill="#111" fill-opacity="0.95" filter="url(#bl)"/><rect x="376.4" y="406.5" width="9.5" height="3.0" rx="1.5" fill="#111" fill-opacity="0.8" filter="url(#bl)"/><rect x="390.4" y="396.9" width="9.5" height="3.4" rx="1.7" fill="#111" fill-opacity="0.1" filter="url(#bl)"/><rect x="390.4" y="406.5" width="9.5" height="3.0" rx="1.5" fill="#111" fill-opacity="0.05" filter="url(#bl)"/><rect x="402.9" y="396.9" width="9.5" height="3.4" rx="1.7" fill="#111" fill-opacity="0.08" filter="url(#bl)"/><rect x="402.9" y="406.5" width="9.5" height="3.0" rx="1.5" fill="#111" fill-opacity="0.05" filter="url(#bl)"/><rect x="415.2" y="396.9" width="9.5" height="3.4" rx="1.7" fill="#111" fill-opacity="0.1" filter="url(#bl)"/><rect x="415.2" y="406.5" width="9.5" height="3.0" rx="1.5" fill="#111" fill-opacity="0.06" filter="url(#bl)"/><rect x="428.6" y="396.9" width="9.5" height="3.4" rx="1.7" fill="#111" fill-opacity="0.5" filter="url(#bl)"/><rect x="428.6" y="406.5" width="9.5" height="3.0" rx="1.5" fill="#111" fill-opacity="0.4" filter="url(#bl)"/><rect x="301.5" y="424.3" width="10.0" height="4.0" rx="2.0" fill="#000" fill-opacity="0.02" filter="url(#bl)"/><rect x="314.8" y="424.3" width="10.0" height="4.0" rx="2.0" fill="#000" fill-opacity="0.12" filter="url(#bl)"/><rect x="327.8" y="424.1" width="10.0" height="4.5" rx="2.2" fill="#000" fill-opacity="1.0" filter="url(#bl)"/><rect x="353.6" y="423.3" width="10.0" height="4.0" rx="2.0" fill="#000" fill-opacity="0.08" filter="url(#bl)"/><rect x="365.5" y="423.3" width="10.0" height="4.0" rx="2.0" fill="#000" fill-opacity="0.85" filter="url(#bl)"/><rect x="376.2" y="422.3" width="10.0" height="6.0" rx="3.0" fill="#000" fill-opacity="1.0" filter="url(#bl)"/><rect x="415.0" y="423.3" width="10.0" height="4.0" rx="2.0" fill="#000" fill-opacity="0.04" filter="url(#bl)"/><rect x="428.4" y="423.3" width="10.0" height="4.0" rx="2.0" fill="#000" fill-opacity="0.4" filter="url(#bl)"/><rect x="286.2" y="444.6" width="12.5" height="5.0" rx="2.5" fill="#050505" fill-opacity="1.0" filter="url(#bl2)"/><rect x="301.2" y="445.4" width="10.5" height="5.0" rx="2.5" fill="#050505" fill-opacity="1.0" filter="url(#bl2)"/><rect x="314.6" y="445.4" width="10.5" height="5.0" rx="2.5" fill="#050505" fill-opacity="1.0" filter="url(#bl2)"/><rect x="327.6" y="445.4" width="10.5" height="5.0" rx="2.5" fill="#050505" fill-opacity="1.0" filter="url(#bl2)"/><rect x="340.1" y="443.8" width="11.0" height="5.0" rx="2.5" fill="#050505" fill-opacity="1.0" filter="url(#bl2)"/><rect x="353.1" y="443.6" width="11.0" height="5.0" rx="2.5" fill="#050505" fill-opacity="1.0" filter="url(#bl2)"/><rect x="365.0" y="443.6" width="11.0" height="5.0" rx="2.5" fill="#050505" fill-opacity="1.0" filter="url(#bl2)"/><rect x="375.9" y="443.3" width="10.5" height="5.0" rx="2.5" fill="#050505" fill-opacity="1.0" filter="url(#bl2)"/><rect x="390.4" y="442.8" width="9.5" height="3.0" rx="1.5" fill="#050505" fill-opacity="1.0" filter="url(#bl2)"/><rect x="402.9" y="442.5" width="9.5" height="3.0" rx="1.5" fill="#050505" fill-opacity="1.0" filter="url(#bl2)"/><rect x="415.8" y="442.3" width="8.5" height="3.0" rx="1.5" fill="#050505" fill-opacity="1.0" filter="url(#bl2)"/><rect x="428.9" y="442.5" width="9.0" height="3.0" rx="1.5" fill="#050505" fill-opacity="1.0" filter="url(#bl2)"/>
<rect x="337.7" y="318.3" width="2" height="143" fill="#000"/><rect x="387.2" y="316.3" width="2" height="144.2" fill="#000"/>
<g font-family='"Liberation Sans", sans-serif' font-size="10" fill="#222"><text x="287.9" y="331.2" text-anchor="middle">0</text><text x="304.6" y="331.2" text-anchor="middle">0.1</text><text x="319.6" y="331.2" text-anchor="middle">1</text><text x="330.2" y="331.2" text-anchor="middle">10</text><text x="343.1" y="331.2" text-anchor="middle">0</text><text x="358.5" y="331.2" text-anchor="middle">0.1</text><text x="370.8" y="331.2" text-anchor="middle">1</text><text x="379.6" y="331.2" text-anchor="middle">10</text><text x="393.1" y="331.2" text-anchor="middle">0</text><text x="406.9" y="331.2" text-anchor="middle">0.1</text><text x="419.4" y="331.2" text-anchor="middle">1</text><text x="432.1" y="331.2" text-anchor="middle">10</text><text x="443.8" y="332">(IL-3)</text><text x="444" y="355.2">p-Akt</text><text x="444" y="381.6"><tspan font-family="Liberation Serif" font-size="11">α</tspan>-Tubulin</text><text x="444" y="405.6">p-Erk1/2</text><text x="444" y="427.8">p-STAT5</text><text x="444" y="448.3"><tspan font-family="Liberation Serif" font-size="11">α</tspan>-Tubulin</text></g>
<g font-family='"Liberation Sans", sans-serif' font-size="10" fill="#222"><text transform="translate(317.0,462.2) rotate(-45)" text-anchor="end">CD123-low</text><text transform="translate(365.4,465.8) rotate(-45)" text-anchor="end">CD123-high-WT</text><text transform="translate(419.0,464.0) rotate(-45)" text-anchor="end" font-size="9.5">CD123-high-APIA</text></g>
</svg>
</body></html>
